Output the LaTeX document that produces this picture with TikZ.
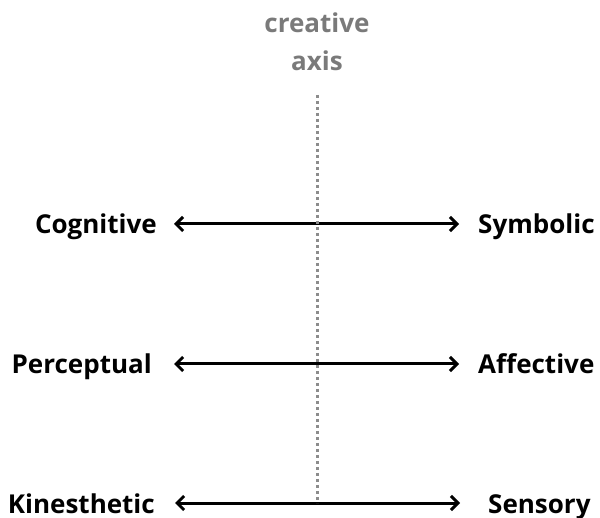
\documentclass[tikz,border=0pt]{standalone}
\usepackage{fontspec}
\setmainfont{Open Sans}
\usepackage{tikz}
\usetikzlibrary{positioning, arrows.meta}

\definecolor{axisgray}{HTML}{7A7A7A}
\definecolor{dotgray}{HTML}{8C8C8C}

\begin{document}
\begin{tikzpicture}[
    x=1pt, y=-1pt,
    lbl/.style={font=\bfseries\fontsize{26}{30}\selectfont, inner sep=0pt, text height=20pt, text depth=0pt},
    axislbl/.style={font=\bfseries\fontsize{26}{30}\selectfont, inner sep=0pt, text=axisgray},
    link/.style={line width=3pt, {Straight Barb[length=7pt, width=14pt]}-{Straight Barb[length=7pt, width=14pt]}}
]
\useasboundingbox (0,0) rectangle (600,518);

% axis labels
\node[axislbl, anchor=base] (cre) at (317,33) {creative};
\node[axislbl, anchor=base] (axs) at (317,71) {axis};
\coordinate (axtop) at (317,95);
\coordinate (axbot) at (317,503);

% rows
\node[lbl, anchor=base east] (cog) at (157,234) {Cognitive};
\node[lbl, anchor=base west] (sym) at (478,234) {Symbolic};
\node[lbl, anchor=base east] (per) at (152,374) {Perceptual};
\node[lbl, anchor=base west] (aff) at (478,374) {Affective};
\node[lbl, anchor=base east] (kin) at (155,513) {Kinesthetic};
\node[lbl, anchor=base west] (sen) at (488,513) {Sensory};

\draw[link, shorten <=17pt, shorten >=19pt] (cog) -- (sym);
\draw[link, shorten <=22pt, shorten >=19pt] (per) -- (aff);
\draw[link, shorten <=20pt, shorten >=28pt] (kin) -- (sen);

\draw[dotgray, line width=3pt, dash pattern=on 3pt off 3pt] (axtop) -- (axbot);
\end{tikzpicture}
\end{document}
